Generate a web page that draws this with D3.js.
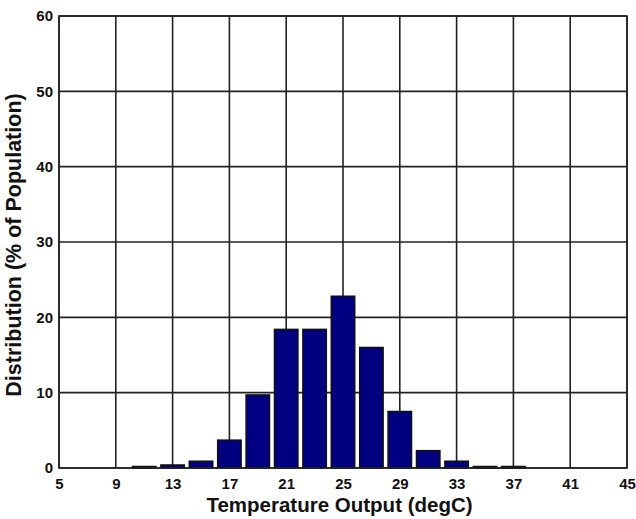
<!DOCTYPE html>
<html><head><meta charset="utf-8">
<script src="https://cdn.jsdelivr.net/npm/d3@7"></script>
<style>body{margin:0;background:#fff}</style>
</head><body>
<svg id="c" width="636" height="519"></svg>
<script>
const binCenters = [11,13,15,17,19,21,23,25,27,29,31,33,35,37];
const distribution = [0.2,0.4,0.9,3.7,9.7,18.4,18.4,22.8,16.0,7.5,2.3,0.9,0.2,0.2];
const xTicks = [5,9,13,17,21,25,29,33,37,41,45];
const yTicks = [0,10,20,30,40,50,60];
const xTitle = "Temperature Output (degC)";
const yTitle = "Distribution (% of Population)";

const m = {l:59, t:16, r:9, b:51};
const W = 636, H = 519;
const svg = d3.select("#c");
const x = d3.scaleLinear().domain([5,45]).range([m.l, W-m.r]);
const y = d3.scaleLinear().domain([0,60]).range([H-m.b, m.t]);
const font = "Arial, 'Liberation Sans', sans-serif";

// grid
svg.append("g").selectAll("line.v").data(xTicks).join("line")
  .attr("x1", d=>x(d)).attr("x2", d=>x(d)).attr("y1", y(0)).attr("y2", y(60))
  .attr("stroke","#222").attr("stroke-width",1.6);
svg.append("g").selectAll("line.h").data(yTicks).join("line")
  .attr("y1", d=>y(d)).attr("y2", d=>y(d)).attr("x1", x(5)).attr("x2", x(45))
  .attr("stroke","#222").attr("stroke-width",1.6);

// bars
const bw = x(1.65) - x(0);
svg.append("g").selectAll("rect").data(binCenters).join("rect")
  .attr("x", (d)=>x(d)-bw/2).attr("width", bw)
  .attr("y", (d,i)=>y(distribution[i])).attr("height",(d,i)=>y(0)-y(distribution[i]))
  .attr("fill","#000080").attr("stroke","#111").attr("stroke-width",1.5);

// border
svg.append("rect").attr("x",x(5)).attr("y",y(60)).attr("width",x(45)-x(5)).attr("height",y(0)-y(60))
  .attr("fill","none").attr("stroke","#222").attr("stroke-width",1.6);

// axes labels
const xa = d3.axisBottom(x).tickValues(xTicks).tickSize(0).tickPadding(0);
const gx = svg.append("g").attr("transform",`translate(0,${y(0)})`).call(xa);
gx.select(".domain").remove();
gx.selectAll("text").attr("y",21).attr("dy",null)
  .attr("font-family",font).attr("font-weight","bold").attr("font-size",15).attr("fill","#111");

const ya = d3.axisLeft(y).tickValues(yTicks).tickSize(0).tickPadding(6);
const gy = svg.append("g").attr("transform",`translate(${x(5)},0)`).call(ya);
gy.select(".domain").remove();
gy.selectAll("text").attr("font-family",font).attr("font-weight","bold").attr("font-size",15).attr("fill","#111");

svg.append("text").attr("x",339.5).attr("y",512).attr("text-anchor","middle")
  .attr("font-family",font).attr("font-weight","bold").attr("font-size",20.5).attr("fill","#111").text(xTitle);
svg.append("text").attr("transform",`translate(21,245) rotate(-90)`).attr("text-anchor","middle")
  .attr("font-family",font).attr("font-weight","bold").attr("font-size",21.5).attr("fill","#111").text(yTitle);
</script>
</body></html>
